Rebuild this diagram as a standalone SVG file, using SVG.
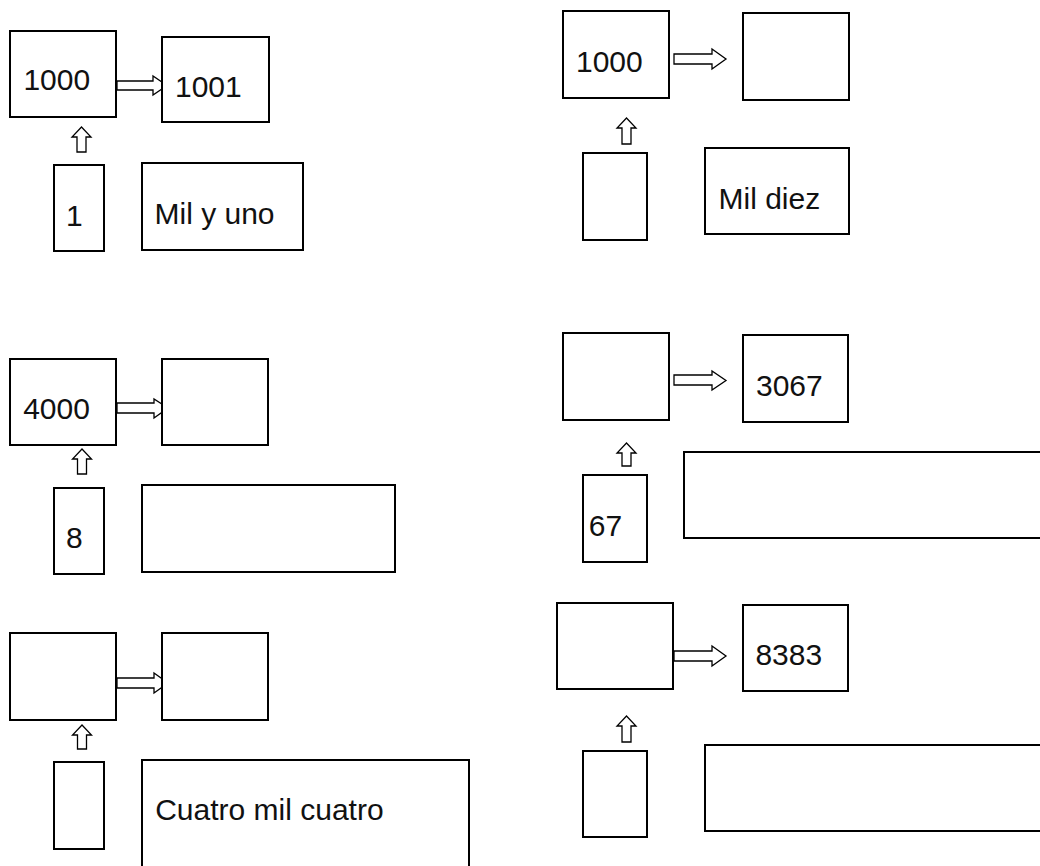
<svg xmlns="http://www.w3.org/2000/svg" width="1040" height="866" viewBox="0 0 1040 866">
<style>
.box{fill:#fff;stroke:#000;stroke-width:2}
.arr{fill:#fff;stroke:#000;stroke-width:1.3;stroke-linejoin:miter}
.t{font-family:"Liberation Sans",Arial,sans-serif;font-size:30px;fill:#111}
</style>
<rect width="1040" height="866" fill="#fff"/>
<g id="connectors">
<path class="arr" d="M117 81 H153 V76 L167 85.5 L153 95 V90 H117 Z"/>
<path class="arr" d="M81.5 127 L91 137 H86 V152 H77 V137 H72 Z"/>
<path class="arr" d="M674 54 H712 V49 L726 59 L712 69 V64 H674 Z"/>
<path class="arr" d="M626.5 118 L636 128 H631 V144 H622 V128 H617 Z"/>
<path class="arr" d="M117 403 H154 V399 L168 408 L154 418 V413 H117 Z"/>
<path class="arr" d="M82 449 L91.5 459 H86.5 V474 H77.5 V459 H72.5 Z"/>
<path class="arr" d="M674 375 H712 V371 L726 380.5 L712 390 V385 H674 Z"/>
<path class="arr" d="M626.5 443 L636 453 H631 V466 H622 V453 H617 Z"/>
<path class="arr" d="M117 678 H154 V673 L168 683 L154 693 V688 H117 Z"/>
<path class="arr" d="M82 725 L91.5 735 H86.5 V749 H77.5 V735 H72.5 Z"/>
<path class="arr" d="M674 651 H712 V646 L726 656 L712 666 V661 H674 Z"/>
<path class="arr" d="M626.5 716 L636 726 H631 V742 H622 V726 H617 Z"/>
</g>
<g id="n1"><rect class="box" x="10" y="31" width="106" height="86"/><text class="t" x="23.4" y="90">1000</text></g>
<g id="n2"><rect class="box" x="162" y="37" width="107" height="85"/><text class="t" x="175" y="97">1001</text></g>
<g id="n3"><rect class="box" x="54" y="165" width="50" height="86"/><text class="t" x="66" y="226">1</text></g>
<g id="n4"><rect class="box" x="142" y="163" width="161" height="87"/><text class="t" x="154.5" y="224">Mil y uno</text></g>
<g id="n5"><rect class="box" x="563" y="11" width="106" height="87"/><text class="t" x="576" y="72">1000</text></g>
<g id="n6"><rect class="box" x="743" y="13" width="106" height="87"/></g>
<g id="n7"><rect class="box" x="583" y="153" width="64" height="87"/></g>
<g id="n8"><rect class="box" x="705" y="148" width="144" height="86"/><text class="t" x="718.5" y="209">Mil diez</text></g>
<g id="n9"><rect class="box" x="10" y="359" width="106" height="86"/><text class="t" x="23.2" y="419">4000</text></g>
<g id="n10"><rect class="box" x="162" y="359" width="106" height="86"/></g>
<g id="n11"><rect class="box" x="54" y="488" width="50" height="86"/><text class="t" x="66" y="548">8</text></g>
<g id="n12"><rect class="box" x="142" y="485" width="253" height="87"/></g>
<g id="n13"><rect class="box" x="563" y="333" width="106" height="87"/></g>
<g id="n14"><rect class="box" x="743" y="335" width="105" height="87"/><text class="t" x="756" y="396">3067</text></g>
<g id="n15"><rect class="box" x="583" y="475" width="64" height="87"/><text class="t" x="588.8" y="536">67</text></g>
<g id="n16"><rect class="box" x="684" y="452" width="370" height="86"/></g>
<g id="n17"><rect class="box" x="10" y="633" width="106" height="87"/></g>
<g id="n18"><rect class="box" x="162" y="633" width="106" height="87"/></g>
<g id="n19"><rect class="box" x="54" y="762" width="50" height="87"/></g>
<g id="n20"><rect class="box" x="142" y="760" width="327" height="120"/><text class="t" x="155.2" y="820">Cuatro mil cuatro</text></g>
<g id="n21"><rect class="box" x="557" y="603" width="116" height="86"/></g>
<g id="n22"><rect class="box" x="743" y="605" width="105" height="86"/><text class="t" x="755.4" y="665">8383</text></g>
<g id="n23"><rect class="box" x="583" y="751" width="64" height="86"/></g>
<g id="n24"><rect class="box" x="705" y="745" width="349" height="86"/></g>
</svg>
